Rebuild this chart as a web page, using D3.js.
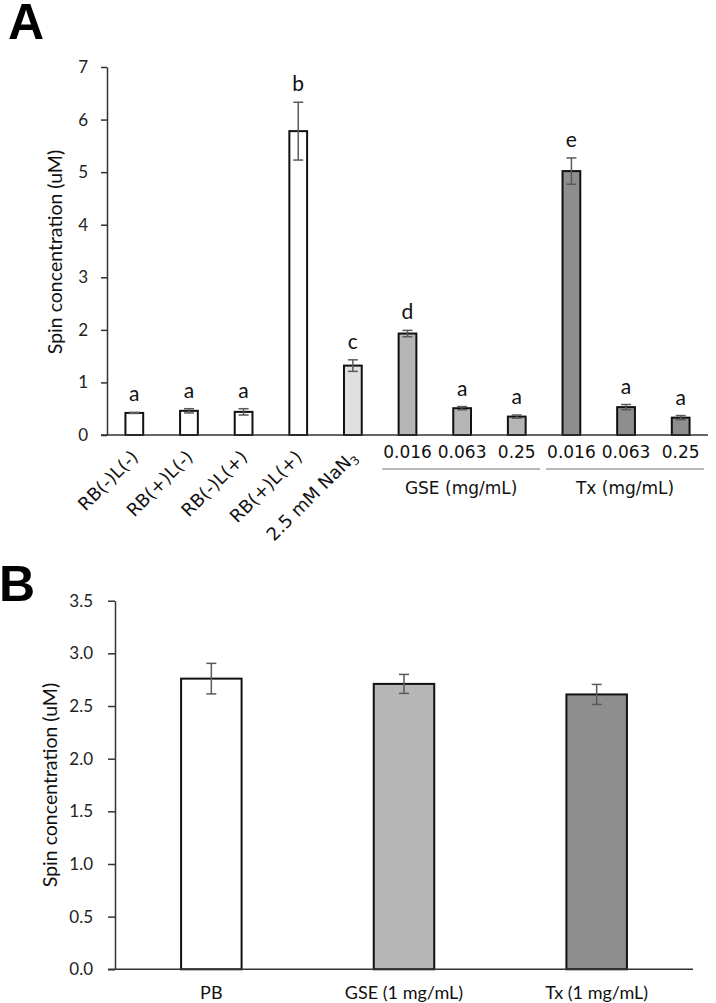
<!DOCTYPE html>
<html>
<head>
<meta charset="utf-8">
<script src="https://cdn.jsdelivr.net/npm/d3@7/dist/d3.min.js"></script>
<style>
html,body{margin:0;padding:0;background:#fff;}
svg{display:block;}
</style>
</head>
<body>
<svg id="chart" width="716" height="1003"></svg>
<script>
// ---------- Panel A data ----------
const catLabelsA = ["RB(-)L(-)", "RB(+)L(-)", "RB(-)L(+)", "RB(+)L(+)", "2.5 mM NaN3",
                    "0.016", "0.063", "0.25", "0.016", "0.063", "0.25"];
const groupA = ["ctrl", "ctrl", "ctrl", "ctrl", "azide", "gse", "gse", "gse", "tx", "tx", "tx"];
const valuesA = [0.42, 0.46, 0.44, 5.78, 1.32, 1.93, 0.51, 0.35, 5.02, 0.53, 0.33];
const errorsA = [0.01, 0.04, 0.06, 0.55, 0.11, 0.06, 0.03, 0.03, 0.25, 0.05, 0.04];
const lettersA = ["a", "a", "a", "b", "c", "d", "a", "a", "e", "a", "a"];
const yTicksA = [0, 1, 2, 3, 4, 5, 6, 7];
const groupNamesA = ["GSE (mg/mL)", "Tx (mg/mL)"];
const groupFirstA = [5, 8];
const groupLastA = [7, 10];

// ---------- Panel B data ----------
const catLabelsB = ["PB", "GSE (1 mg/mL)", "Tx (1 mg/mL)"];
const groupB = ["ctrl", "gse", "tx"];
const valuesB = [2.76, 2.71, 2.61];
const errorsB = [0.145, 0.09, 0.095];
const yTicksB = [0, 0.5, 1.0, 1.5, 2.0, 2.5, 3.0, 3.5];

const yTitle = "Spin concentration  (uM)";

// ---------- styles ----------
const fillScale = d3.scaleOrdinal()
  .domain(["ctrl", "azide", "gse", "tx"])
  .range(["#ffffff", "#e0e0e0", "#b6b6b6", "#8e8e8e"]);
const calib = "Lato, 'Open Sans', sans-serif";
const verd = "'DejaVu Sans', Verdana, sans-serif";
const axisColor = "#333";
const errColor = "#5a5a5a";

const svg = d3.select("#chart");

// ================= PANEL A =================
(function () {
  const left = 107, right = 708, top = 67, bottom = 435;
  const x = d3.scaleBand().domain(d3.range(valuesA.length)).range([left, right]).paddingInner(0.675).paddingOuter(0.3375);
  const y = d3.scaleLinear().domain([0, 7]).range([bottom, top]);
  const g = svg.append("g");

  svg.append("text").attr("x", 8).attr("y", 39)
    .attr("font-family", "'Liberation Sans', Arial, sans-serif").attr("font-weight", "bold")
    .attr("font-size", 50).text("A");

  // y axis
  const ya = g.append("g").attr("transform", `translate(${left},0)`)
    .call(d3.axisLeft(y).tickValues(yTicksA).tickFormat(d3.format("d")).tickSize(6).tickSizeOuter(0).tickPadding(13));
  ya.selectAll("path,line").attr("stroke", axisColor).attr("stroke-width", 1.5);
  ya.selectAll("text").attr("font-family", calib).attr("font-size", 17).attr("fill", "#222");

  // bars
  g.selectAll("rect.bar").data(valuesA).join("rect")
    .attr("x", (d, i) => x(i)).attr("width", x.bandwidth())
    .attr("y", d => y(d)).attr("height", d => y(0) - y(d))
    .attr("fill", (d, i) => fillScale(groupA[i]))
    .attr("stroke", "#111").attr("stroke-width", 2);

  // error bars
  const eb = g.append("g").attr("stroke", errColor).attr("stroke-width", 1.5);
  valuesA.forEach((v, i) => {
    const cx = x(i) + x.bandwidth() / 2;
    const e = errorsA[i];
    eb.append("line").attr("x1", cx).attr("x2", cx).attr("y1", y(v - e)).attr("y2", y(v + e));
    eb.append("line").attr("x1", cx - 5).attr("x2", cx + 5).attr("y1", y(v - e)).attr("y2", y(v - e));
    eb.append("line").attr("x1", cx - 5).attr("x2", cx + 5).attr("y1", y(v + e)).attr("y2", y(v + e));
  });

  // letters
  g.selectAll("text.let").data(lettersA).join("text")
    .attr("x", (d, i) => x(i) + x.bandwidth() / 2)
    .attr("y", (d, i) => y(valuesA[i] + errorsA[i]) - 11)
    .attr("text-anchor", "middle").attr("font-family", calib).attr("font-size", 21).attr("fill", "#111")
    .text(d => d);

  // x axis line
  g.append("line").attr("x1", left - 6).attr("x2", right).attr("y1", bottom).attr("y2", bottom)
    .attr("stroke", axisColor).attr("stroke-width", 1.5);

  // category labels
  catLabelsA.forEach((lab, i) => {
    const cx = x(i) + x.bandwidth() / 2;
    if (i < 5) {
      const t = g.append("text")
        .attr("transform", `translate(${cx + 5},${bottom + 23}) rotate(-45)`)
        .attr("text-anchor", "end").attr("font-family", verd).attr("font-size", 18).attr("fill", "#111");
      if (lab.endsWith("NaN3")) {
        t.append("tspan").text(lab.slice(0, -1));
        t.append("tspan").attr("font-size", 12).attr("dy", 4).text("3");
      } else {
        t.text(lab);
      }
    } else {
      g.append("text").attr("x", cx).attr("y", bottom + 23)
        .attr("text-anchor", "middle").attr("font-family", verd).attr("font-size", 17).attr("fill", "#111")
        .text(lab);
    }
  });

  // group brackets
  groupNamesA.forEach((name, k) => {
    const x1 = x(groupFirstA[k]) - x.step() * x.paddingInner() / 2 + 2;
    const x2 = x(groupLastA[k]) + x.bandwidth() + x.step() * x.paddingInner() / 2 - 4;
    g.append("line").attr("x1", x1).attr("x2", x2).attr("y1", 469).attr("y2", 469)
      .attr("stroke", "#a0a0a0").attr("stroke-width", 1.5);
    g.append("text").attr("x", (x1 + x2) / 2).attr("y", 494)
      .attr("text-anchor", "middle").attr("font-family", verd).attr("font-size", 17).attr("fill", "#111")
      .text(name);
  });

  // y title
  g.append("text").attr("transform", `translate(62,${(67 + 435) / 2 + 1}) rotate(-90)`)
    .attr("text-anchor", "middle").attr("font-family", calib).attr("font-size", 19.5).attr("fill", "#111")
    .text(yTitle);
})();

// ================= PANEL B =================
(function () {
  const left = 115, right = 693, top = 600.7, bottom = 969.3;
  const x = d3.scaleBand().domain(d3.range(valuesB.length)).range([left, right]).paddingInner(0.686).paddingOuter(0.343);
  const y = d3.scaleLinear().domain([0, 3.5]).range([bottom, top]);
  const g = svg.append("g");

  svg.append("text").attr("x", -1).attr("y", 601)
    .attr("font-family", "'Liberation Sans', Arial, sans-serif").attr("font-weight", "bold")
    .attr("font-size", 50).text("B");

  const ya = g.append("g").attr("transform", `translate(${left},0)`)
    .call(d3.axisLeft(y).tickValues(yTicksB).tickFormat(d3.format(".1f")).tickSize(7).tickSizeOuter(0).tickPadding(15));
  ya.selectAll("path,line").attr("stroke", axisColor).attr("stroke-width", 1.5);
  ya.selectAll("text").attr("font-family", calib).attr("font-size", 17).attr("fill", "#222");

  g.selectAll("rect.bar").data(valuesB).join("rect")
    .attr("x", (d, i) => x(i)).attr("width", x.bandwidth())
    .attr("y", d => y(d)).attr("height", d => y(0) - y(d))
    .attr("fill", (d, i) => fillScale(groupB[i]))
    .attr("stroke", "#111").attr("stroke-width", 2);

  const eb = g.append("g").attr("stroke", errColor).attr("stroke-width", 1.5);
  valuesB.forEach((v, i) => {
    const cx = x(i) + x.bandwidth() / 2;
    const e = errorsB[i];
    eb.append("line").attr("x1", cx).attr("x2", cx).attr("y1", y(v - e)).attr("y2", y(v + e));
    eb.append("line").attr("x1", cx - 5).attr("x2", cx + 5).attr("y1", y(v - e)).attr("y2", y(v - e));
    eb.append("line").attr("x1", cx - 5).attr("x2", cx + 5).attr("y1", y(v + e)).attr("y2", y(v + e));
  });

  g.append("line").attr("x1", left - 7).attr("x2", right).attr("y1", bottom).attr("y2", bottom)
    .attr("stroke", axisColor).attr("stroke-width", 1.5);

  g.selectAll("text.cat").data(catLabelsB).join("text")
    .attr("x", (d, i) => x(i) + x.bandwidth() / 2).attr("y", 999)
    .attr("text-anchor", "middle").attr("font-family", calib).attr("font-size", 18).attr("fill", "#111")
    .text(d => d);

  g.append("text").attr("transform", `translate(57,${(600.7 + 969.3) / 2}) rotate(-90)`)
    .attr("text-anchor", "middle").attr("font-family", calib).attr("font-size", 19.5).attr("fill", "#111")
    .text(yTitle);
})();
</script>
</body>
</html>
